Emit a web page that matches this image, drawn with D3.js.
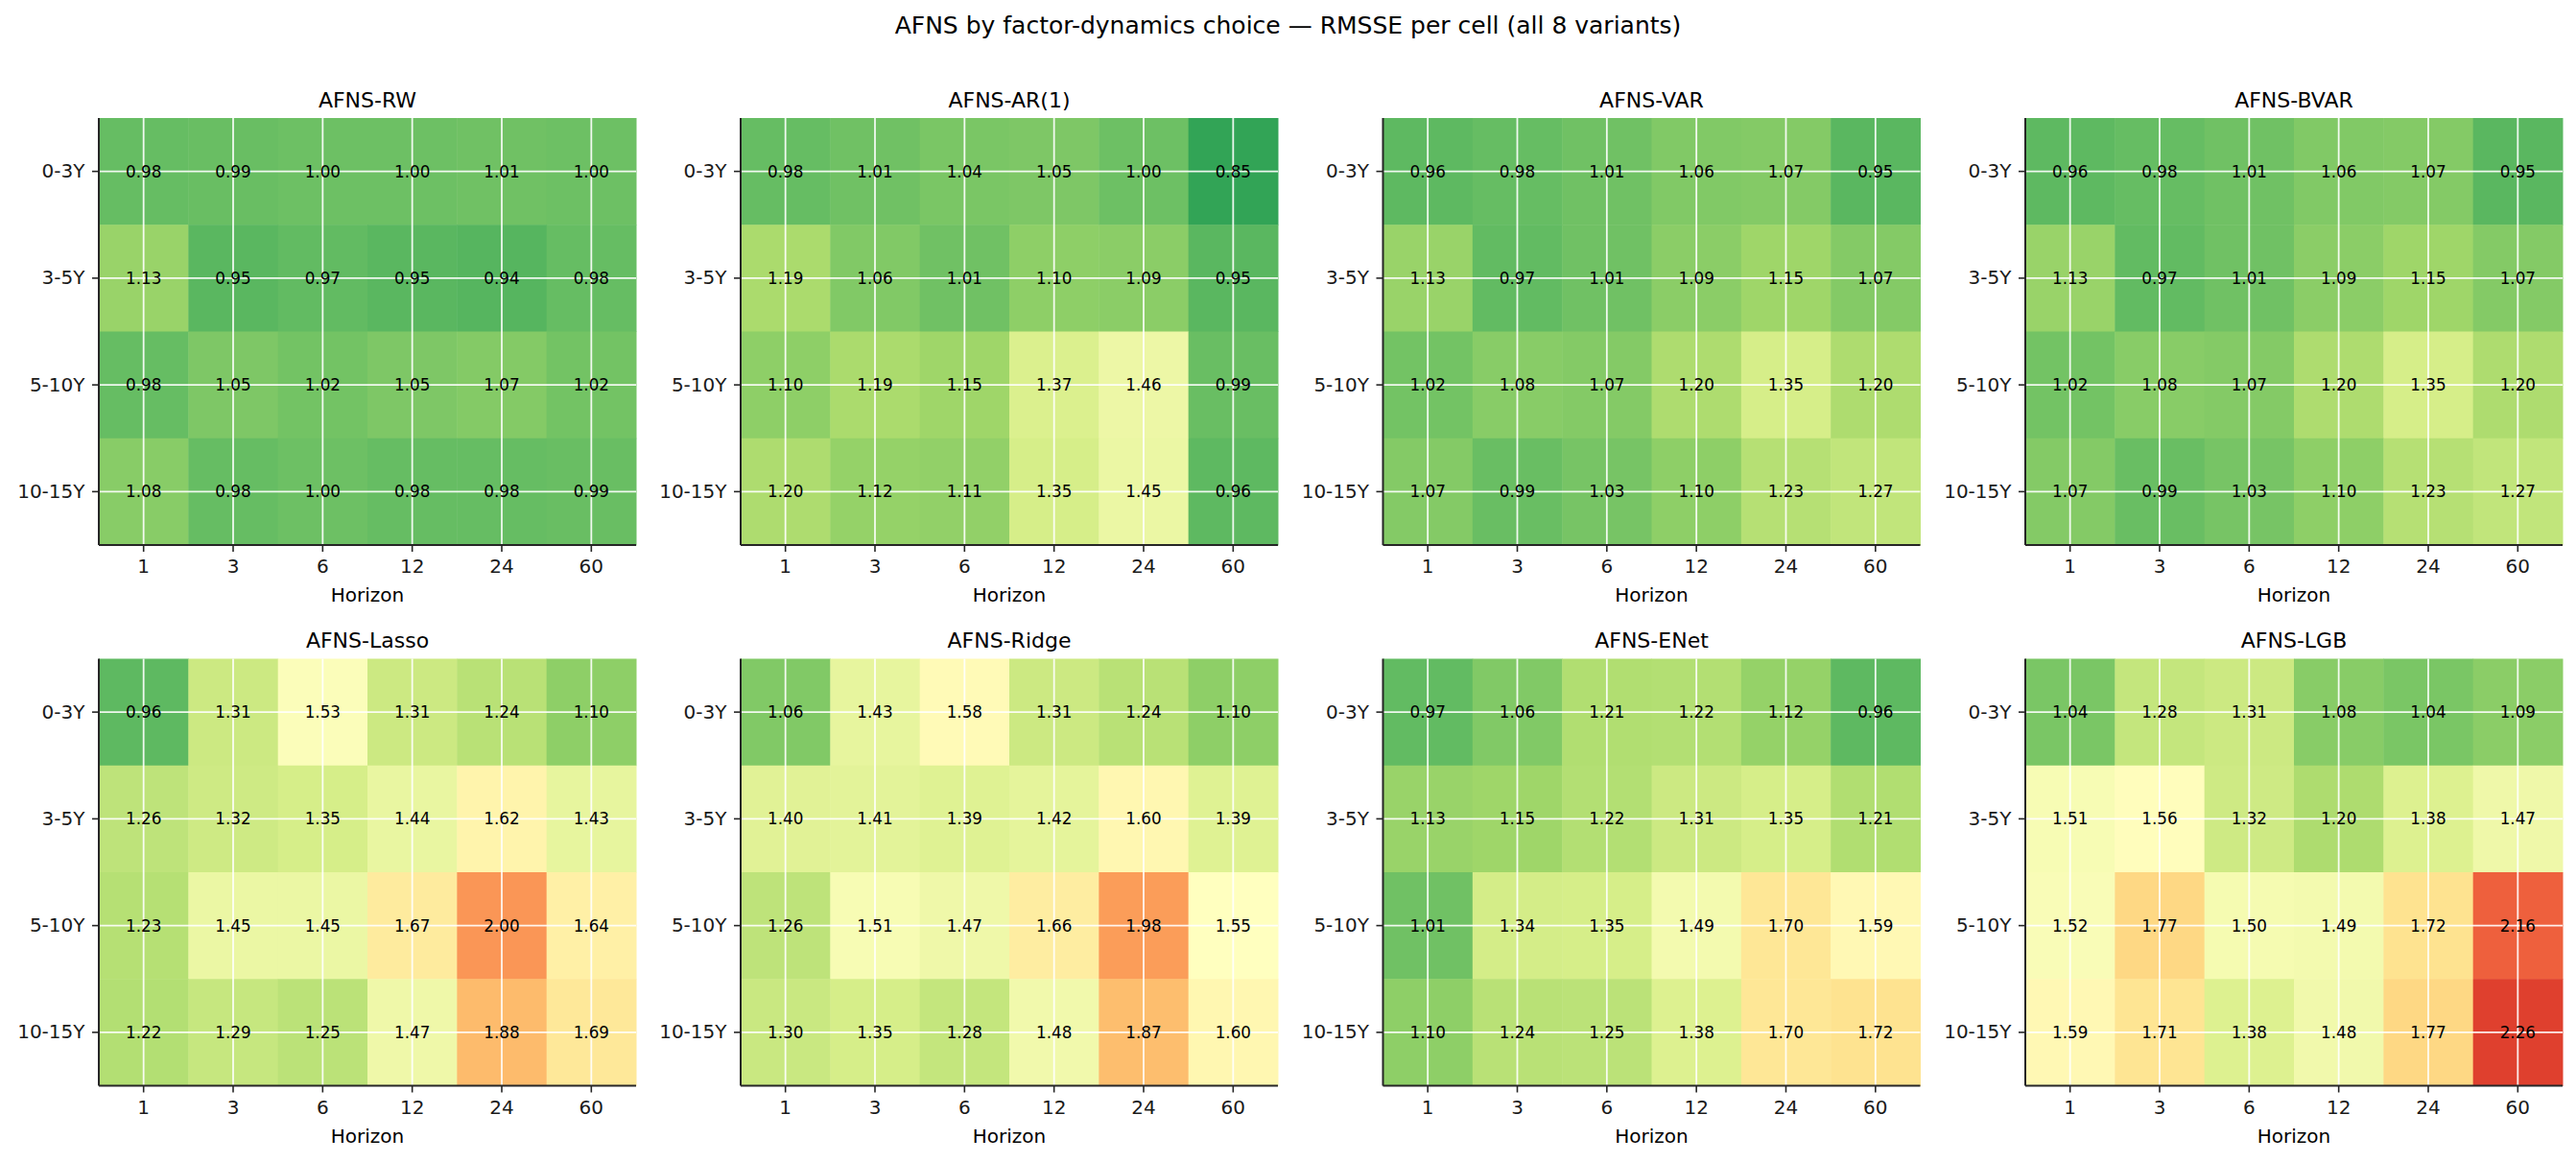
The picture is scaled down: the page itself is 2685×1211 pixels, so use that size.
<!DOCTYPE html>
<html>
<head>
<meta charset="utf-8">
<script src="https://cdn.jsdelivr.net/npm/d3@7"></script>
<style>
  body { margin: 0; background: #fff; }
  svg { display: block; font-family: "DejaVu Sans", sans-serif; }
</style>
</head>
<body>
<script>
// Tick labels
var horizons = ["1", "3", "6", "12", "24", "60"];
var maturities = ["0-3Y", "3-5Y", "5-10Y", "10-15Y"];
var variants = ["AFNS-RW", "AFNS-AR(1)", "AFNS-VAR", "AFNS-BVAR",
                "AFNS-Lasso", "AFNS-Ridge", "AFNS-ENet", "AFNS-LGB"];

// RMSSE per cell, rows = maturity bucket, cols = horizon
var rmsseRW = [
  [0.98, 0.99, 1.00, 1.00, 1.01, 1.00],
  [1.13, 0.95, 0.97, 0.95, 0.94, 0.98],
  [0.98, 1.05, 1.02, 1.05, 1.07, 1.02],
  [1.08, 0.98, 1.00, 0.98, 0.98, 0.99]
];
var rmsseAR1 = [
  [0.98, 1.01, 1.04, 1.05, 1.00, 0.85],
  [1.19, 1.06, 1.01, 1.10, 1.09, 0.95],
  [1.10, 1.19, 1.15, 1.37, 1.46, 0.99],
  [1.20, 1.12, 1.11, 1.35, 1.45, 0.96]
];
var rmsseVAR = [
  [0.96, 0.98, 1.01, 1.06, 1.07, 0.95],
  [1.13, 0.97, 1.01, 1.09, 1.15, 1.07],
  [1.02, 1.08, 1.07, 1.20, 1.35, 1.20],
  [1.07, 0.99, 1.03, 1.10, 1.23, 1.27]
];
var rmsseBVAR = [
  [0.96, 0.98, 1.01, 1.06, 1.07, 0.95],
  [1.13, 0.97, 1.01, 1.09, 1.15, 1.07],
  [1.02, 1.08, 1.07, 1.20, 1.35, 1.20],
  [1.07, 0.99, 1.03, 1.10, 1.23, 1.27]
];
var rmsseLasso = [
  [0.96, 1.31, 1.53, 1.31, 1.24, 1.10],
  [1.26, 1.32, 1.35, 1.44, 1.62, 1.43],
  [1.23, 1.45, 1.45, 1.67, 2.00, 1.64],
  [1.22, 1.29, 1.25, 1.47, 1.88, 1.69]
];
var rmsseRidge = [
  [1.06, 1.43, 1.58, 1.31, 1.24, 1.10],
  [1.40, 1.41, 1.39, 1.42, 1.60, 1.39],
  [1.26, 1.51, 1.47, 1.66, 1.98, 1.55],
  [1.30, 1.35, 1.28, 1.48, 1.87, 1.60]
];
var rmsseENet = [
  [0.97, 1.06, 1.21, 1.22, 1.12, 0.96],
  [1.13, 1.15, 1.22, 1.31, 1.35, 1.21],
  [1.01, 1.34, 1.35, 1.49, 1.70, 1.59],
  [1.10, 1.24, 1.25, 1.38, 1.70, 1.72]
];
var rmsseLGB = [
  [1.04, 1.28, 1.31, 1.08, 1.04, 1.09],
  [1.51, 1.56, 1.32, 1.20, 1.38, 1.47],
  [1.52, 1.77, 1.50, 1.49, 1.72, 2.16],
  [1.59, 1.71, 1.38, 1.48, 1.77, 2.26]
];
var panels = [rmsseRW, rmsseAR1, rmsseVAR, rmsseBVAR,
              rmsseLasso, rmsseRidge, rmsseENet, rmsseLGB];

var width = 2685, height = 1211;

// RdYlGn reversed (green = low, red = high), linear between brewer stops
var rdylgn = ["#a50026","#d73027","#f46d43","#fdae61","#fee08b","#ffffbf",
              "#d9ef8b","#a6d96a","#66bd63","#1a9850","#006837"].reverse();
var colorInterp = d3.piecewise(d3.interpolateRgb, rdylgn);
var color = d3.scaleSequential(colorInterp).domain([0.6, 2.5]).clamp(true);

var svg = d3.select("body").append("svg")
    .attr("width", width).attr("height", height);

svg.append("text")
    .attr("x", width / 2).attr("y", 35)
    .attr("text-anchor", "middle")
    .style("font-size", "25px").style("fill", "#000")
    .text("AFNS by factor-dynamics choice \u2014 RMSSE per cell (all 8 variants)");

// panel geometry
var colLefts = [103, 772, 1441.5, 2111];
var rowTops = [123, 686.5];
var pw = 560, ph = 445;

panels.forEach(function(data, i) {
    var left = colLefts[i % 4], top = rowTops[Math.floor(i / 4)];

    var x = d3.scaleBand().domain(horizons).range([0, pw]).padding(0);
    var y = d3.scaleBand().domain(maturities).range([0, ph]).padding(0);

    var g = svg.append("g").attr("transform", "translate(" + left + "," + top + ")");

    var cells = [];
    data.forEach(function(row, r) {
        row.forEach(function(v, c) {
            cells.push({m: maturities[r], h: horizons[c], v: v});
        });
    });

    g.selectAll("rect.cell").data(cells).enter().append("rect")
        .attr("class", "cell")
        .attr("x", function(d) { return x(d.h); })
        .attr("y", function(d) { return y(d.m); })
        .attr("width", x.bandwidth() + 0.5)
        .attr("height", y.bandwidth() + 0.5)
        .attr("fill", function(d) { return color(d.v); });

    // white grid at tick centres
    g.selectAll("line.gx").data(horizons).enter().append("line")
        .attr("x1", function(d) { return x(d) + x.bandwidth() / 2; })
        .attr("x2", function(d) { return x(d) + x.bandwidth() / 2; })
        .attr("y1", 0).attr("y2", ph)
        .attr("stroke", "#fff").attr("stroke-width", 1.8).attr("stroke-opacity", 0.9);
    g.selectAll("line.gy").data(maturities).enter().append("line")
        .attr("y1", function(d) { return y(d) + y.bandwidth() / 2; })
        .attr("y2", function(d) { return y(d) + y.bandwidth() / 2; })
        .attr("x1", 0).attr("x2", pw)
        .attr("stroke", "#fff").attr("stroke-width", 1.8).attr("stroke-opacity", 0.9);

    // annotations
    g.selectAll("text.val").data(cells).enter().append("text")
        .attr("class", "val")
        .attr("x", function(d) { return x(d.h) + x.bandwidth() / 2; })
        .attr("y", function(d) { return y(d.m) + y.bandwidth() / 2 + 6.1; })
        .attr("text-anchor", "middle")
        .style("font-size", "16.8px").style("fill", "#000")
        .text(function(d) { return d.v.toFixed(2); });

    // axes
    var xAxis = d3.axisBottom(x).tickSize(7).tickPadding(8);
    var yAxis = d3.axisLeft(y).tickSize(7).tickPadding(7.5);

    var gx = g.append("g").attr("transform", "translate(0," + ph + ")").call(xAxis);
    var gy = g.append("g").call(yAxis);

    [gx, gy].forEach(function(a) {
        a.select(".domain").attr("stroke", "#262626").attr("stroke-width", 2);
        a.selectAll(".tick line").attr("stroke", "#262626").attr("stroke-width", 1.6);
        a.selectAll(".tick text").style("font-size", "20px").style("fill", "#1a1a1a")
            .style("font-family", "DejaVu Sans");
    });
    // only left and bottom spines, no outer stubs
    gx.select(".domain").attr("d", "M0,0H" + pw);
    gy.select(".domain").attr("d", "M0,0V" + ph);

    g.append("text")
        .attr("x", pw / 2).attr("y", 504 - 445 + ph)
        .attr("text-anchor", "middle")
        .style("font-size", "20px").style("fill", "#000")
        .text("Horizon");

    g.append("text")
        .attr("x", pw / 2).attr("y", -11.5)
        .attr("text-anchor", "middle")
        .style("font-size", "22px").style("fill", "#000")
        .text(variants[i]);
});
</script>
</body>
</html>
